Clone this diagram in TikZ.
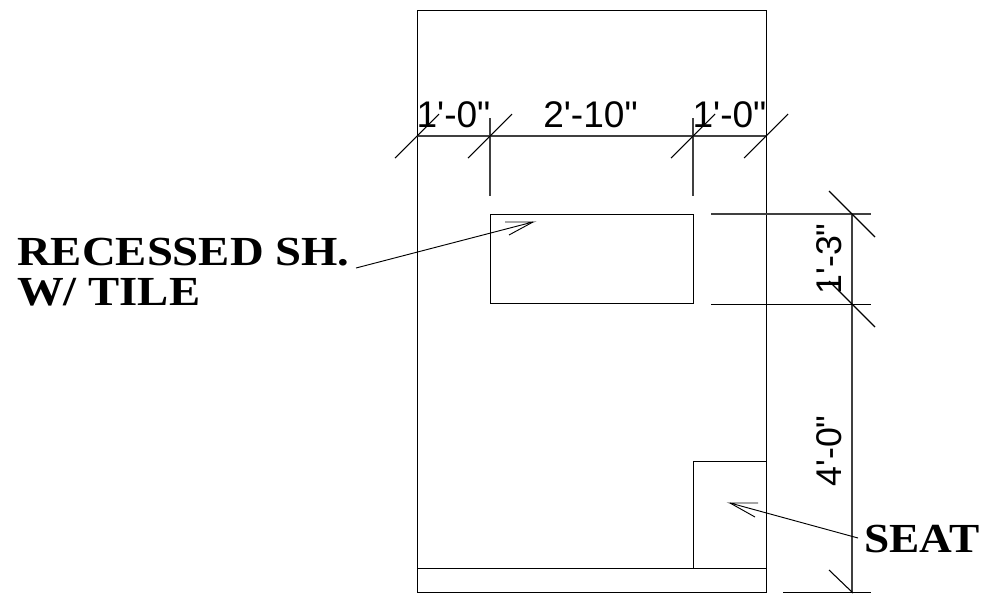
\documentclass[tikz,border=0pt]{standalone}
\usepackage{fontspec}
\setmainfont[Ligatures=TeXOff]{Liberation Sans}
\newfontfamily\labelfont[FakeStretch=1.13]{Liberation Serif Bold}
\begin{document}
\begin{tikzpicture}[x=0.75pt,y=-0.75pt,
  planline/.style={draw=black,line width=0.75pt},
  dimline/.style={draw=black!75,line width=0.8pt},
  tickline/.style={draw=black,line width=0.8pt},
  leaderline/.style={draw=black,line width=0.7pt},
  dimtext/.style={font=\fontsize{27.8}{30}\selectfont,inner sep=0pt,anchor=base},
  sidetext/.style={font=\fontsize{26.8}{30}\selectfont,inner sep=0pt,anchor=base,rotate=90},
  notetext/.style={font=\labelfont\fontsize{31}{33}\selectfont,inner sep=0pt,anchor=base west}]
\useasboundingbox (0,0) rectangle (983,597);
\draw[planline] (417,10) rectangle (766,592);
\draw[planline] (417,568) -- (766,568);
\draw[planline] (490,214) rectangle (693,303.5);
\draw[planline] (693,568) -- (693,461) -- (766,461);
% top dimension
\draw[dimline] (417,136) -- (766,136);
\draw[dimline] (490,118) -- (490,196);
\draw[dimline] (693,118) -- (693,196);
\foreach \xx in {417,490,693,766}
  \draw[tickline] (\xx-22,158) -- (\xx+22,114);
% right dimension
\draw[dimline] (852,214) -- (852,592);
\draw[dimline] (711,214) -- (871,214);
\draw[planline] (711,304) -- (871,304);
\draw[planline] (783,592) -- (871,592);
\foreach \yy in {214,304}
  \draw[tickline] (829,\yy-23) -- (875,\yy+23);
\draw[tickline] (829,570) -- (853,593);
% dimension texts
\node[dimtext] (da) at (453.5,127) {1'-0"};
\node[dimtext] (db) at (590.5,127) {2'-10"};
\node[dimtext] (dc) at (729.5,127) {1'-0"};
\node[sidetext] (dd) at (841,259) {1'-3"};
\node[sidetext] (de) at (841,451) {4'-0"};
% notes
\node[notetext] (recessed) at (17,265) {RECESSED SH.};
\node[notetext] (tile) at (17,305) {W/ TILE};
\node[notetext,xscale=0.97] (seat) at (864,552) {SEAT};
% leaders
\coordinate (rstart) at (356,268);
\coordinate (rtip) at (533,222);
\coordinate (rba) at (505,222);
\coordinate (rbb) at (509,235);
\draw[leaderline] (rstart) -- (rtip) -- (rba);
\draw[leaderline] (rtip) -- (rbb);
\coordinate (sstart) at (858,538);
\coordinate (stip) at (730,503);
\coordinate (sba) at (758,503);
\coordinate (sbb) at (755,517);
\draw[leaderline] (sstart) -- (stip) -- (sba);
\draw[leaderline] (stip) -- (sbb);
\end{tikzpicture}
\end{document}
